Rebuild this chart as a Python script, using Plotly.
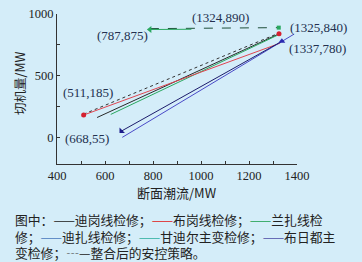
import plotly.graph_objects as go

# ---- data ----
digang_x = [567, 1325]; digang_y = [165, 840]          # 迪岗线检修 (black)
bugang_x = [511, 1330]; bugang_y = [185, 765]          # 布岗线检修 (red)
lanzha_x = [624, 1322]; lanzha_y = [190, 832]          # 兰扎线检修 (green)
zhenghe_x = [511, 1325]; zhenghe_y = [192, 846]        # 整合后的安控策略 (dotted)
zhenghe2_x = [787, 1324]; zhenghe2_y = [882, 890]      # 整合后 horizontal (dashed)
gandier_x = [787, 960]; gandier_y = [875, 877]         # green short segment
buridu_x = [1337, 668]; buridu_y = [780, 55]           # 布日都主变检修 (navy)
dizha_x = [672, 1388]; dizha_y = [5, 838]              # 迪扎线检修 (blue)

pt_labels = ["(1324,890)", "(1325,840)", "(1337,780)", "(787,875)", "(511,185)", "(668,55)"]

x_ticks = [400, 600, 800, 1000, 1200, 1400]
y_ticks = [0, 500, 1000]

BG = "#d4edf9"
SERIF = "Liberation Serif, DejaVu Serif, serif"
CJK = "Noto Sans CJK SC"

fig = go.Figure()

def line(x, y, color, dash="solid", width=1):
    fig.add_trace(go.Scatter(x=x, y=y, mode="lines",
                             line=dict(color=color, width=width, dash=dash),
                             showlegend=False, hoverinfo="skip"))

line(zhenghe_x, zhenghe_y, "#333333", "dot", 1)
line(digang_x, digang_y, "#2a2a2a")
line(lanzha_x, lanzha_y, "#2aa860")
line(bugang_x, bugang_y, "#e04550")
line(dizha_x, dizha_y, "#4a4ac8")
line(buridu_x, buridu_y, "#1c1c6c")
line(zhenghe2_x, zhenghe2_y, "#1f4f3a", "dash", 1)
line(gandier_x, gandier_y, "#2aa860")

# markers
fig.add_trace(go.Scatter(x=[bugang_x[0], digang_x[1]], y=[bugang_y[0], digang_y[1]], mode="markers",
                         marker=dict(color="#d62030", size=5, symbol="circle"),
                         showlegend=False, hoverinfo="skip"))
fig.add_trace(go.Scatter(x=[zhenghe2_x[0]], y=[gandier_y[0]], mode="markers",
                         marker=dict(color="#2aa860", size=6, symbol="triangle-left"),
                         showlegend=False, hoverinfo="skip"))
fig.add_trace(go.Scatter(x=[zhenghe2_x[1]], y=[zhenghe2_y[1]], mode="markers",
                         marker=dict(color="#2aa860", size=4, symbol="square"),
                         showlegend=False, hoverinfo="skip"))
fig.add_trace(go.Scatter(x=[buridu_x[0]], y=[buridu_y[0]], mode="markers",
                         marker=dict(color="#2a2ab0", size=6, symbol="triangle-up"),
                         showlegend=False, hoverinfo="skip"))
fig.add_trace(go.Scatter(x=[buridu_x[1]], y=[buridu_y[1]], mode="markers",
                         marker=dict(color="#1c1c8c", size=6, symbol="triangle-sw"),
                         showlegend=False, hoverinfo="skip"))

# plot area in pixels
L, R, T, B = 57, 297, 14, 164
def px(xp):
    return (xp - L) / (R - L)
def py(yp):
    return (B - yp) / (B - T)

lab_font = dict(family=SERIF, size=13, color="#23304f")
label_pos = [(220, 17), (318, 27), (317, 48), (122, 36), (88, 93), (87, 138)]
for txt, (xx, yy) in zip(pt_labels, label_pos):
    fig.add_annotation(x=px(xx), y=py(yy), xref="paper", yref="paper", text=txt,
                       showarrow=False, font=lab_font, xanchor="center", yanchor="middle")

# axis titles
fig.add_annotation(x=px(177), y=py(192), xref="paper", yref="paper", text="断面潮流/MW",
                   showarrow=False, font=dict(family=CJK, size=13, color="#222"),
                   xanchor="center", yanchor="middle")
fig.add_annotation(x=px(19), y=py(83), xref="paper", yref="paper", text="切机量/MW",
                   showarrow=False, textangle=-90, font=dict(family=CJK, size=12.5, color="#222"),
                   xanchor="center", yanchor="middle")

# caption (one multi-line annotation)
def seg(c):
    return f"<span style='color:{c}'>—</span>—"
cap_lines = [
    "图中：——迪岗线检修；" + seg("#e02020") + "布岗线检修；" + seg("#20a050") + "兰扎线检",
    "修；" + seg("#4a7ac0") + "迪扎线检修；" + seg("#30b0a0") + "甘迪尔主变检修；" + seg("#5050a8") + "布日都主",
    "变检修；<span style='color:#333'>┄</span>—整合后的安控策略。",
]
fig.add_annotation(x=px(13), y=py(236), xref="paper", yref="paper", text="<br>".join(cap_lines),
                   showarrow=False, font=dict(family=CJK, size=12.8, color="#222"),
                   xanchor="left", yanchor="middle", align="left")

axis_common = dict(showgrid=False, zeroline=False, showline=True, linecolor="#333",
                   linewidth=1, ticks="inside", ticklen=3, tickcolor="#333", automargin=False,
                   tickfont=dict(family=SERIF, size=12.5, color="#222"))
fig.update_xaxes(range=[400, 1400], tickvals=x_ticks, ticktext=[str(v) for v in x_ticks],
                 minor=dict(ticks="inside", ticklen=3, dtick=100, tickcolor="#333"),
                 **axis_common)
fig.update_yaxes(range=[-210, 1000], tickvals=y_ticks, ticktext=[str(v) for v in y_ticks],
                 minor=dict(ticks="inside", ticklen=3, tickvals=[250, 750], tickcolor="#333"),
                 **axis_common)

fig.update_layout(width=362, height=262,
                  margin=dict(l=L, r=362 - R, t=T, b=262 - B, autoexpand=False),
                  paper_bgcolor=BG, plot_bgcolor=BG, showlegend=False)

fig.write_html("out.html", config={"displayModeBar": False},
               post_script="document.body.style.margin='0';document.body.style.overflow='hidden';")
